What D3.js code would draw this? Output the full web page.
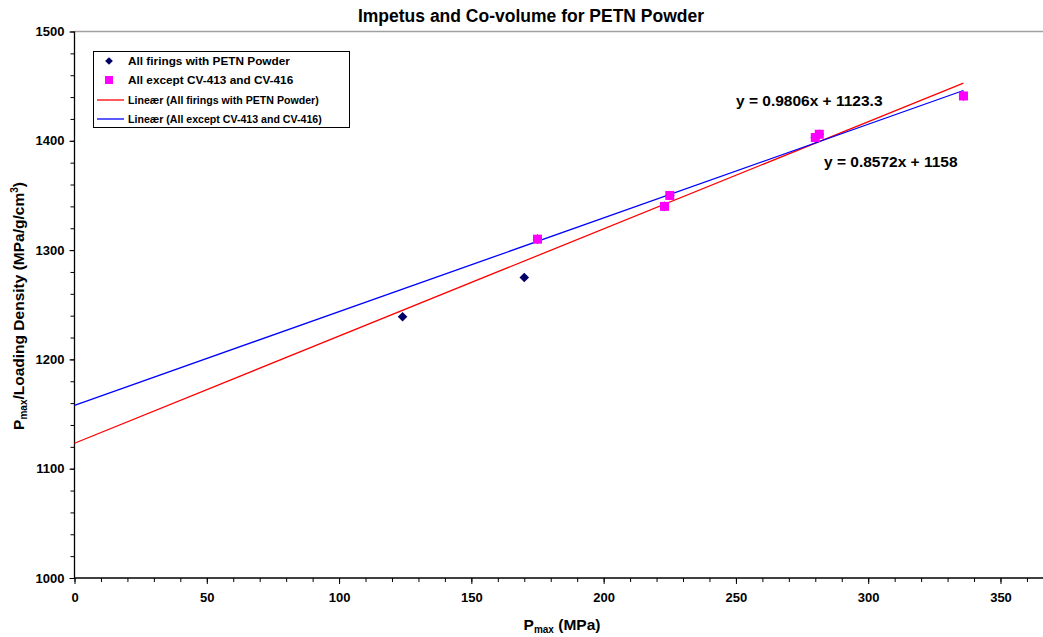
<!DOCTYPE html>
<html><head><meta charset="utf-8">
<script src="https://cdn.jsdelivr.net/npm/d3@7"></script>
<style>body{margin:0;background:#fff;font-family:Arial,"Liberation Sans",sans-serif;}svg text{font-family:Arial,"Liberation Sans",sans-serif;font-weight:bold;}</style>
</head><body><svg id="c" width="1043" height="637"></svg>
<script>
const allX = [124, 170, 175, 223, 225, 280, 281.5, 336];
const allY = [1239, 1275, 1310, 1340, 1350, 1403, 1406, 1441];
const subX = [175, 223, 225, 280, 281.5, 336];
const subY = [1310, 1340, 1350, 1403, 1406, 1441];
const fitAll = {slope: 0.9806, intercept: 1123.3, label: "y = 0.9806x + 1123.3"};
const fitSub = {slope: 0.8572, intercept: 1158, label: "y = 0.8572x + 1158"};
const xTicks = [0, 50, 100, 150, 200, 250, 300, 350];
const yTicks = [1000, 1100, 1200, 1300, 1400, 1500];
const legendLabels = ["All firings with PETN Powder", "All except CV-413 and CV-416", "Lineær (All firings with PETN Powder)", "Lineær (All except CV-413 and CV-416)"];

const svg = d3.select("#c");
const x = d3.scaleLinear().domain([0, 370]).range([74.5, 74.5 + 370 * 2.6457]);
const y = d3.scaleLinear().domain([1000, 1500]).range([578, 31.5]);

// top border
svg.append("line").attr("x1", x(0)).attr("x2", 1043).attr("y1", 31.5).attr("y2", 31.5).attr("stroke", "#a0a0a0").attr("stroke-width", 1.5);

// axes
const xMinor = d3.range(0, 371, 10);
const yMinor = d3.range(1000, 1501, 20);
const gx = svg.append("g").attr("transform", `translate(0,${y(1000)})`);
gx.call(d3.axisBottom(x).tickValues(xMinor).tickSize(4).tickFormat(""));
gx.call(g => g.select(".domain").remove());
const gx2 = svg.append("g").attr("transform", `translate(0,${y(1000)})`);
gx2.call(d3.axisBottom(x).tickValues(xTicks).tickSize(6).tickPadding(9).tickFormat(d3.format("d")));
gx2.selectAll("text").attr("font-size", 13).attr("fill", "#000");
gx2.select(".domain").attr("d", `M${x(0)},0H1043`).attr("stroke-width", 1.3);

const gy = svg.append("g").attr("transform", `translate(${x(0)},0)`);
gy.call(d3.axisLeft(y).tickValues(yMinor).tickSize(4).tickFormat(""));
gy.call(g => g.select(".domain").remove());
const gy2 = svg.append("g").attr("transform", `translate(${x(0)},0)`);
gy2.call(d3.axisLeft(y).tickValues(yTicks).tickSize(5).tickPadding(5).tickFormat(d3.format("d")));
gy2.selectAll("text").attr("font-size", 13).attr("fill", "#000");
gy2.select(".domain").attr("d", `M0,${y(1500)}V${y(1000)}`).attr("stroke-width", 1.3);

// trend lines
const xmax = d3.max(allX);
function drawFit(f, color) {
  svg.append("line").attr("x1", x(0)).attr("y1", y(f.intercept))
    .attr("x2", x(xmax)).attr("y2", y(f.intercept + f.slope * xmax))
    .attr("stroke", color).attr("stroke-width", 1.3);
}
drawFit(fitAll, "#ff0000");
drawFit(fitSub, "#0000ff");

// points
svg.append("g").selectAll("path").data(allX.map((d, i) => [d, allY[i]])).join("path")
  .attr("d", d3.symbol().type(d3.symbolSquare).size(46)).attr("transform", d => `translate(${x(d[0])},${y(d[1])}) rotate(45)`)
  .attr("fill", "#000066");
svg.append("g").selectAll("rect").data(subX.map((d, i) => [d, subY[i]])).join("rect")
  .attr("x", d => x(d[0]) - 4.5).attr("y", d => y(d[1]) - 4.5).attr("width", 9).attr("height", 9)
  .attr("fill", "#ff00ff");

// equations
svg.append("text").attr("x", 736).attr("y", 106).attr("font-size", 15.5).text(fitAll.label);
svg.append("text").attr("x", 824).attr("y", 167).attr("font-size", 15.5).text(fitSub.label);

// title
svg.append("text").attr("x", 531).attr("y", 22).attr("text-anchor", "middle").attr("font-size", 17.5).text("Impetus and Co-volume for PETN Powder");

// axis labels
const xl = svg.append("text").attr("x", 562).attr("y", 630).attr("text-anchor", "middle").attr("font-size", 15.5);
xl.append("tspan").text("P");
xl.append("tspan").attr("font-size", 10).attr("dy", 3).text("max");
xl.append("tspan").attr("dy", -3).text(" (MPa)");

const yl = svg.append("text").attr("transform", "translate(24,306) rotate(-90)").attr("text-anchor", "middle").attr("font-size", 15.5);
yl.append("tspan").text("P");
yl.append("tspan").attr("font-size", 10).attr("dy", 3).text("max");
yl.append("tspan").attr("dy", -3).text("/Loading Density (MPa/g/cm");
yl.append("tspan").attr("font-size", 10).attr("dy", -6).text("3");
yl.append("tspan").attr("dy", 6).text(")");

// legend
const lg = svg.append("g");
lg.append("rect").attr("x", 93.5).attr("y", 51.5).attr("width", 256).attr("height", 76).attr("fill", "#fff").attr("stroke", "#000").attr("stroke-width", 1);
const rowsY = [61, 80, 100, 119];
const legendSizes = [11.8, 11.8, 10.6, 10.6];
legendLabels.forEach((t, i) => {
  lg.append("text").attr("x", 128).attr("y", rowsY[i] + 4).attr("font-size", legendSizes[i]).text(t);
});
lg.append("path").attr("d", d3.symbol().type(d3.symbolSquare).size(30)).attr("transform", `translate(109,${rowsY[0]}) rotate(45)`).attr("fill", "#000066");
lg.append("rect").attr("x", 105).attr("y", rowsY[1] - 4).attr("width", 8).attr("height", 8).attr("fill", "#ff00ff");
lg.append("line").attr("x1", 97).attr("x2", 124).attr("y1", rowsY[2]).attr("y2", rowsY[2]).attr("stroke", "#ff0000").attr("stroke-width", 1.3);
lg.append("line").attr("x1", 97).attr("x2", 124).attr("y1", rowsY[3]).attr("y2", rowsY[3]).attr("stroke", "#0000ff").attr("stroke-width", 1.3);
</script></body></html>
